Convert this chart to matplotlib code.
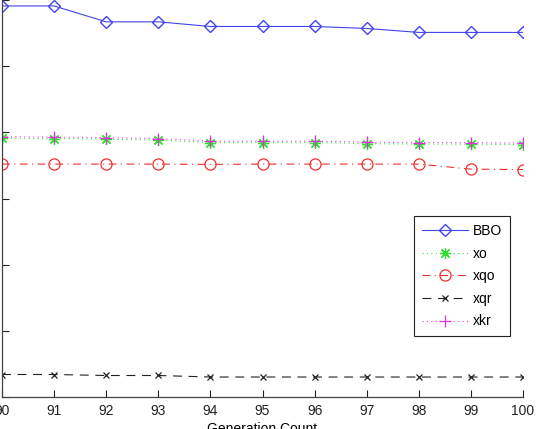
import matplotlib
matplotlib.use("Agg")
import matplotlib.pyplot as plt

generations = [90, 91, 92, 93, 94, 95, 96, 97, 98, 99, 100]
bbo = [5.91, 5.91, 5.67, 5.67, 5.60, 5.60, 5.60, 5.57, 5.51, 5.51, 5.51]
xo = [3.91, 3.905, 3.897, 3.882, 3.845, 3.845, 3.845, 3.829, 3.822, 3.822, 3.814]
xqo = [3.52, 3.52, 3.52, 3.52, 3.515, 3.52, 3.52, 3.52, 3.52, 3.444, 3.437]
xqr = [0.34, 0.34, 0.325, 0.325, 0.302, 0.302, 0.302, 0.302, 0.302, 0.302, 0.302]
xkr = [3.935, 3.927, 3.92, 3.905, 3.867, 3.867, 3.867, 3.852, 3.845, 3.845, 3.837]
series_names = ["BBO", "xo", "xqo", "xqr", "xkr"]
x_ticks = list(range(90, 101))
y_ticks = [0, 1, 2, 3, 4, 5, 6]

plt.rcParams['font.family'] = ['Liberation Sans', 'DejaVu Sans']
fig = plt.figure(figsize=(5.37, 4.29), dpi=100)
W, H = 537, 429
ax = fig.add_axes([2 / W, (H - 397) / H, 521 / W, 397 / H])

lw = 0.8
ax.plot(generations, bbo, color='#4444ee', ls='-', lw=lw, marker='D', ms=6.5,
        mfc='none', mec='#4444ee', mew=1.0, label=series_names[0])
ax.plot(generations, xo, color='#40e040', ls=(0, (1, 3)), lw=lw, marker=(8, 2, 0), ms=8,
        mfc='none', mec='#30e030', mew=0.9, label=series_names[1])
ax.plot(generations, xqo, color='#ee3030', ls=(0, (7, 4, 1, 4)), lw=lw, marker='o', ms=8,
        mfc='none', mec='#ee3030', mew=0.9, label=series_names[2])
ax.plot(generations, xqr, color='#222222', ls=(0, (8, 6)), lw=lw, marker='x', ms=5,
        mfc='none', mec='#222222', mew=0.9, label=series_names[3])
ax.plot(generations, xkr, color='#e040e0', ls=(0, (1, 3)), lw=lw, marker='+', ms=8,
        mfc='none', mec='#e030e0', mew=0.9, label=series_names[4])

ax.set_xlim(90, 100)
ax.set_ylim(0, 6)
ax.set_xticks(x_ticks)
ax.set_xticklabels([str(t) for t in x_ticks])
ax.set_yticks(y_ticks)
ax.set_yticklabels([])
ax.tick_params(direction='in', length=5, width=0.8, labelsize=10, pad=5, colors='#222222')
for s in ['top', 'right']:
    ax.spines[s].set_visible(False)
for s in ['left', 'bottom']:
    ax.spines[s].set_color('#444444')
    ax.spines[s].set_linewidth(0.9)

ax.set_xlabel('Generation Count', fontsize=10, labelpad=3)

leg = ax.legend(loc='upper right', bbox_to_anchor=(0.975, 0.455), fontsize=10,
                handlelength=3.3, handletextpad=0.4, labelspacing=0.62,
                borderpad=0.55, numpoints=1, fancybox=False, framealpha=1,
                edgecolor='#222222', borderaxespad=0)
leg.get_frame().set_linewidth(0.8)

fig.savefig('out.png', dpi=100)
